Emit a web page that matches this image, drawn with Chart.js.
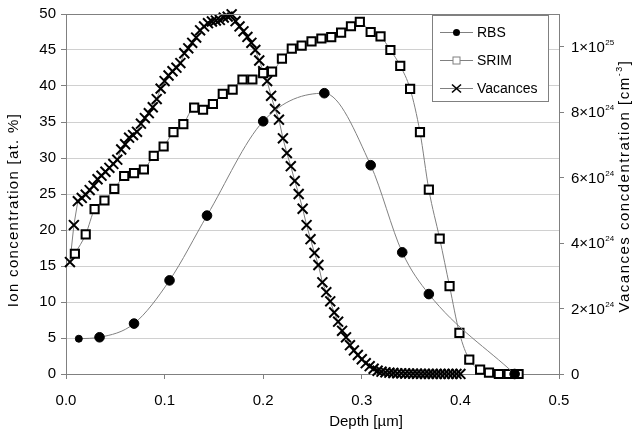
<!DOCTYPE html>
<html><head><meta charset="utf-8">
<script src="https://cdn.jsdelivr.net/npm/chart.js@4/dist/chart.umd.min.js"></script>
<style>html,body{margin:0;padding:0;background:#fff}canvas{display:block}</style>
</head><body>
<canvas id="c" width="633" height="435"></canvas>
<script>
const seriesNames = ['RBS', 'SRIM', 'Vacances'];

const rbsDepth = [0.013, 0.034, 0.069, 0.105, 0.143, 0.200, 0.262, 0.309, 0.341, 0.368, 0.455];
const rbsConc  = [4.9, 5.1, 7.0, 13.0, 22.0, 35.1, 39.0, 29.0, 16.9, 11.1, 0.0];

const srimDepth = [0.009, 0.020, 0.029, 0.039, 0.049, 0.059, 0.069, 0.079, 0.089, 0.099,
                   0.109, 0.119, 0.130, 0.139, 0.149, 0.159, 0.169, 0.179, 0.189, 0.200,
                   0.209, 0.219, 0.229, 0.239, 0.249, 0.259, 0.269, 0.279, 0.289, 0.298,
                   0.309, 0.319, 0.329, 0.339, 0.349, 0.359, 0.368, 0.379, 0.389, 0.399,
                   0.409, 0.420, 0.429, 0.439, 0.449, 0.459];
const srimConc  = [16.7, 19.4, 22.9, 24.1, 25.7, 27.5, 27.9, 28.4, 30.3, 31.6,
                   33.6, 34.7, 37.0, 36.7, 37.5, 38.9, 39.5, 40.9, 40.9, 41.8,
                   42.0, 43.8, 45.2, 45.6, 46.2, 46.6, 46.8, 47.4, 48.3, 48.9,
                   47.5, 46.9, 45.0, 42.8, 39.6, 33.6, 25.6, 18.8, 12.2, 5.7,
                   2.0, 0.6, 0.2, 0.0, 0.0, 0.0];

// Vacancy concentration, in units of 1e24 cm^-3
const vacDepth = [0.004,0.008,0.012,0.016,0.020,0.024,0.028,0.032,0.036,0.040,
                  0.044,0.048,0.052,0.056,0.060,0.064,0.068,0.072,0.076,0.080,
                  0.084,0.088,0.092,0.096,0.100,0.104,0.108,0.112,0.116,0.120,
                  0.124,0.128,0.132,0.136,0.140,0.144,0.148,0.152,0.156,0.160,
                  0.164,0.168,0.172,0.176,0.180,0.184,0.188,0.192,0.196,0.200,
                  0.204,0.208,0.212,0.216,0.220,0.224,0.228,0.232,0.236,0.240,
                  0.244,0.248,0.252,0.256,0.260,0.264,0.268,0.272,0.276,0.280,
                  0.284,0.288,0.292,0.296,0.300,0.304,0.308,0.312,0.316,0.320,
                  0.324,0.328,0.332,0.336,0.340,0.344,0.348,0.352,0.356,0.360,
                  0.364,0.368,0.372,0.376,0.380,0.384,0.388,0.392,0.396,0.400];
const vacE24 = [3.42,4.55,5.28,5.38,5.48,5.62,5.75,5.95,6.06,6.18,
                6.30,6.42,6.55,6.86,7.02,7.22,7.30,7.40,7.65,7.82,
                7.97,8.15,8.40,8.72,8.95,9.12,9.25,9.36,9.50,9.80,
                9.95,10.12,10.28,10.50,10.62,10.72,10.77,10.80,10.82,10.89,
                10.92,10.99,10.78,10.62,10.47,10.30,10.12,9.90,9.58,9.25,
                8.95,8.50,8.10,7.77,7.20,6.75,6.35,5.90,5.50,5.05,
                4.55,4.12,3.70,3.33,2.80,2.50,2.22,1.88,1.60,1.32,
                1.12,0.88,0.72,0.58,0.45,0.33,0.24,0.16,0.10,0.07,
                0.05,0.04,0.03,0.02,0.02,0.015,0.012,0.010,0.008,0.006,
                0.005,0.004,0.003,0.003,0.002,0.002,0.001,0.001,0.001,0.001];

const xTicks = [0, 0.1, 0.2, 0.3, 0.4, 0.5];
const xTickLabels = ['0.0', '0.1', '0.2', '0.3', '0.4', '0.5'];
const leftTicks = [0, 5, 10, 15, 20, 25, 30, 35, 40, 45, 50];
const rightTicks = [0, 2, 4, 6, 8, 10];
const rightTickMant = ['0', '2×10', '4×10', '6×10', '8×10', '1×10'];
const rightTickExp = ['', '24', '24', '24', '24', '25'];

const xTitle = 'Depth [µm]';
const yTitle = 'Ion concentration [at. %]';
const y2Title = ['Vacances concdentration [cm', '-3', ']'];

const FONT = '"Liberation Sans", Arial, sans-serif';
const LINE = '#808080';

const pts = (xs, ys) => xs.map((x, i) => ({x: x, y: ys[i]}));

function drawMarker(ctx, style, x, y) {
  ctx.save();
  if (style === 'circle') {
    ctx.fillStyle = '#000';
    ctx.beginPath(); ctx.arc(x, y, 3.5, 0, Math.PI * 2); ctx.fill();
  } else if (style === 'rect') {
    ctx.fillStyle = '#fff'; ctx.strokeStyle = '#808080'; ctx.lineWidth = 1;
    ctx.fillRect(x - 3.5, y - 3.5, 7, 7);
    ctx.strokeRect(x - 3.5, y - 3.5, 7, 7);
  } else {
    ctx.strokeStyle = '#000'; ctx.lineWidth = 1.6;
    ctx.beginPath();
    ctx.moveTo(x - 4.5, y - 4); ctx.lineTo(x + 4.5, y + 4);
    ctx.moveTo(x - 4.5, y + 4); ctx.lineTo(x + 4.5, y - 4);
    ctx.stroke();
  }
  ctx.restore();
}

const decor = {
  id: 'decor',
  afterDraw(chart) {
    const ctx = chart.ctx, a = chart.chartArea, s = chart.scales;
    ctx.save();
    // top border of plot area
    ctx.strokeStyle = LINE; ctx.lineWidth = 1;
    ctx.beginPath();
    ctx.moveTo(Math.round(a.left) + 0.5, Math.round(a.top) + 0.5);
    ctx.lineTo(Math.round(a.right) + 0.5, Math.round(a.top) + 0.5);
    ctx.stroke();

    // right axis tick labels with superscripts
    ctx.fillStyle = '#000';
    ctx.textBaseline = 'middle';
    ctx.textAlign = 'left';
    rightTicks.forEach((v, i) => {
      const y = s.y2.getPixelForValue(v);
      const x0 = a.right + 12;
      ctx.font = '15px ' + FONT;
      ctx.fillText(rightTickMant[i], x0, y + 1);
      const w = ctx.measureText(rightTickMant[i]).width;
      if (rightTickExp[i]) {
        ctx.font = '8px ' + FONT;
        ctx.fillText(rightTickExp[i], x0 + w + 0.5, y - 4);
      }
    });

    // axis titles
    ctx.font = '15px ' + FONT;
    ctx.textAlign = 'center';
    ctx.fillText(xTitle, 366, 422);

    ctx.save();
    ctx.letterSpacing = '1.3px';
    ctx.translate(14, 210);
    ctx.rotate(-Math.PI / 2);
    ctx.fillText(yTitle, 0, 0);
    ctx.restore();

    ctx.save();
    ctx.letterSpacing = '1.5px';
    ctx.translate(625, 186);
    ctx.rotate(-Math.PI / 2);
    ctx.textAlign = 'left';
    ctx.font = '15px ' + FONT;
    const w1 = ctx.measureText(y2Title[0]).width;
    const w3 = ctx.measureText(y2Title[2]).width;
    ctx.font = '9px ' + FONT;
    const w2 = ctx.measureText(y2Title[1]).width;
    let xs = -(w1 + w2 + w3) / 2;
    ctx.font = '15px ' + FONT;
    ctx.fillText(y2Title[0], xs, 0);
    ctx.font = '9px ' + FONT;
    ctx.fillText(y2Title[1], xs + w1, -5);
    ctx.font = '15px ' + FONT;
    ctx.fillText(y2Title[2], xs + w1 + w2, 0);
    ctx.restore();

    // legend
    const bx = 432, by = 15, bw = 116, bh = 86;
    ctx.fillStyle = '#fff';
    ctx.fillRect(bx, by, bw, bh);
    ctx.strokeStyle = LINE; ctx.lineWidth = 1;
    ctx.strokeRect(bx + 0.5, by + 0.5, bw, bh);
    const styles = ['circle', 'rect', 'crossRot'];
    const rows = [32, 60, 88];
    chart.data.datasets.forEach((ds, i) => {
      const y = rows[i];
      ctx.strokeStyle = LINE; ctx.lineWidth = 1;
      ctx.beginPath(); ctx.moveTo(440, y + 0.5); ctx.lineTo(473, y + 0.5); ctx.stroke();
      drawMarker(ctx, styles[i], 456.5, y + 0.5);
      ctx.fillStyle = '#000';
      ctx.font = '14px ' + FONT;
      ctx.textAlign = 'left';
      ctx.textBaseline = 'middle';
      ctx.fillText(ds.label, 477, y + 1);
    });
    ctx.restore();
  }
};

new Chart(document.getElementById('c'), {
  type: 'scatter',
  data: {
    datasets: [
      {
        label: seriesNames[0],
        data: pts(rbsDepth, rbsConc),
        yAxisID: 'y',
        showLine: true,
        cubicInterpolationMode: 'monotone',
        borderColor: LINE, borderWidth: 1,
        pointStyle: 'circle',
        pointRadius: rbsDepth.map((d, i) => i === 0 ? 3.5 : 4.8),
        pointBackgroundColor: '#000', pointBorderColor: '#000', pointBorderWidth: 1,
        clip: false
      },
      {
        label: seriesNames[1],
        data: pts(srimDepth, srimConc),
        yAxisID: 'y',
        showLine: true,
        cubicInterpolationMode: 'monotone',
        borderColor: LINE, borderWidth: 1,
        pointStyle: 'rect',
        pointRadius: 5.8,
        pointBackgroundColor: '#fff', pointBorderColor: '#000', pointBorderWidth: 2,
        clip: false
      },
      {
        label: seriesNames[2],
        data: pts(vacDepth, vacE24),
        yAxisID: 'y2',
        showLine: true,
        tension: 0,
        borderColor: LINE, borderWidth: 1,
        pointStyle: 'crossRot',
        pointRadius: 7,
        pointBorderColor: '#000', pointBorderWidth: 2,
        clip: false
      }
    ]
  },
  options: {
    responsive: false,
    animation: false,
    devicePixelRatio: 1,
    layout: {padding: {top: 9, left: 0, right: 0, bottom: 0}},
    plugins: {legend: {display: false}, tooltip: {enabled: false}},
    scales: {
      x: {
        type: 'linear', min: 0, max: 0.5,
        afterBuildTicks: sc => { sc.ticks = xTicks.map(v => ({value: v})); },
        afterFit: sc => { sc.height = 61; },
        ticks: {
          callback: (v, i) => xTickLabels[i],
          font: {family: FONT, size: 15}, color: '#000', padding: 13,
          maxRotation: 0, autoSkip: false
        },
        grid: {drawOnChartArea: false, drawTicks: true, tickLength: 5, tickColor: LINE},
        border: {display: true, color: LINE}
      },
      y: {
        type: 'linear', position: 'left', min: 0, max: 50,
        afterBuildTicks: sc => { sc.ticks = leftTicks.map(v => ({value: v})); },
        afterFit: sc => { sc.width = 66; },
        ticks: {font: {family: FONT, size: 15}, color: '#000', padding: 5},
        grid: {color: '#d0d0d0', tickLength: 5, tickColor: LINE},
        border: {display: true, color: LINE}
      },
      y2: {
        type: 'linear', position: 'right', min: 0, max: 11,
        afterBuildTicks: sc => { sc.ticks = rightTicks.map(v => ({value: v})); },
        afterFit: sc => { sc.width = 74; },
        ticks: {display: false},
        grid: {drawOnChartArea: false, tickLength: 5, tickColor: LINE},
        border: {display: true, color: LINE}
      }
    }
  },
  plugins: [decor]
});
</script>
</body></html>
